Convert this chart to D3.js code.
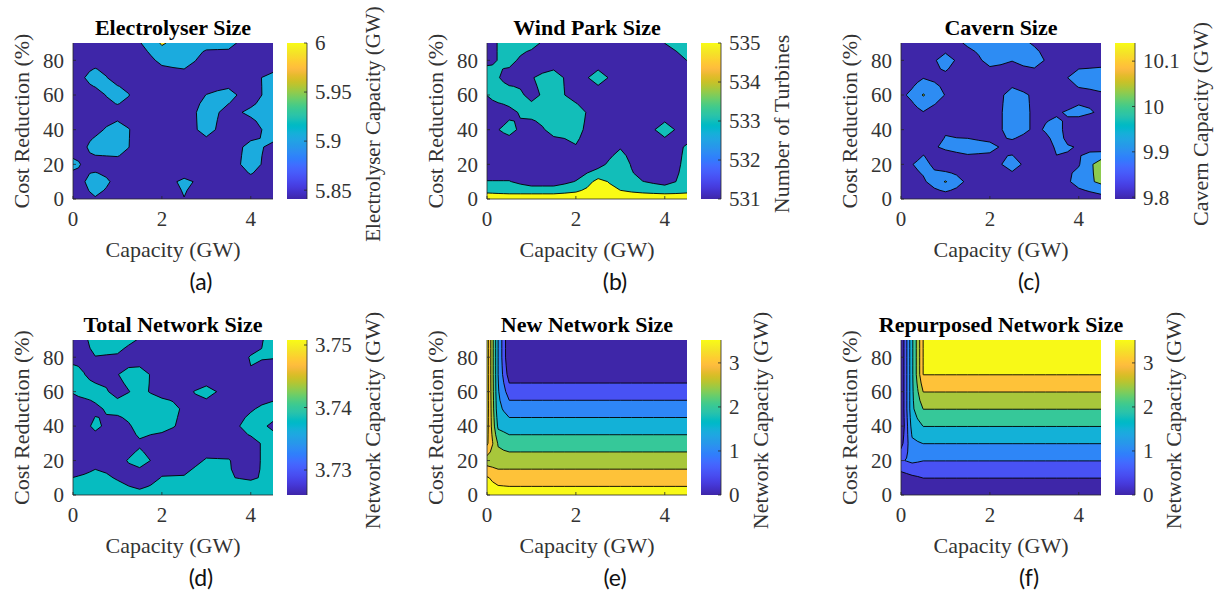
<!DOCTYPE html>
<html>
<head>
<meta charset="utf-8">
<script src="https://cdn.jsdelivr.net/npm/d3@7"></script>
<style>
  body { margin: 0; background: #fff; }
  text { font-family: "Liberation Serif", "Times New Roman", serif; fill: #333; }
  .title { font-weight: bold; fill: #000; font-size: 22px; }
  .tag { font-family: Lato, "Open Sans", sans-serif; fill: #111; font-size: 23px; }
</style>
</head>
<body>
<svg width="1222" height="599"></svg>
<script>
// grid of the sweep: columns = capacity (GW), rows = cost reduction (%) from top (90) to bottom (0)
var capacity = [0, 0.25, 0.5, 1, 1.5, 2, 2.5, 3, 3.5, 4, 4.5];
var costReduction = [90, 80, 70, 60, 50, 40, 30, 20, 10, 0];
var xTicks = [0, 2, 4];
var yTicks = [0, 20, 40, 60, 80];

var electrolyserSize = [
  [5.843, 5.843, 5.843, 5.843, 5.899, 6.000, 5.948, 5.942, 5.940, 5.843, 5.843],
  [5.843, 5.843, 5.843, 5.843, 5.843, 5.931, 5.967, 5.849, 5.843, 5.843, 5.843],
  [5.843, 5.901, 5.979, 5.843, 5.843, 5.843, 5.843, 5.843, 5.843, 5.880, 5.932],
  [5.843, 5.843, 5.843, 5.979, 5.843, 5.843, 5.843, 5.907, 5.943, 5.843, 5.967],
  [5.843, 5.843, 5.843, 5.843, 5.843, 5.843, 5.843, 5.955, 5.868, 5.929, 5.967],
  [5.843, 5.855, 5.868, 5.967, 5.855, 5.843, 5.843, 5.948, 5.843, 5.843, 5.967],
  [5.843, 5.886, 5.961, 5.967, 5.849, 5.843, 5.843, 5.843, 5.843, 5.940, 5.880],
  [5.937, 5.890, 5.843, 5.855, 5.843, 5.843, 5.843, 5.843, 5.843, 5.958, 5.843],
  [5.843, 5.899, 5.979, 5.868, 5.843, 5.874, 5.920, 5.883, 5.843, 5.867, 5.843],
  [5.843, 5.868, 5.893, 5.843, 5.843, 5.843, 5.903, 5.843, 5.843, 5.843, 5.843]
];
var electrolyserLevels = [5.905, 5.99];
var electrolyserRange = [5.841, 6.0];
var electrolyserTicks = [5.85, 5.9, 5.95, 6];

var windParkSize = [
  [531, 533.2, 534.6, 534.24, 531, 531, 531, 531, 531, 533.04, 534.6],
  [532.2, 533.08, 534, 531, 531, 531, 531, 531, 531, 531, 533.04],
  [534.8, 533.2, 531.6, 532.8, 534.6, 531, 534.6, 531, 531, 531, 531],
  [533.08, 534.6, 534.64, 532.2, 534.32, 531.68, 531, 531, 531, 531, 531],
  [531, 531, 532.2, 534.32, 534.6, 534.6, 531, 531, 531, 531, 531],
  [531, 532.92, 534, 531, 534.32, 533.96, 531, 531, 531, 534.6, 531],
  [531, 531, 531, 531, 531, 532.84, 531, 532.8, 531, 531, 533.4],
  [531, 531, 531, 531, 531, 531, 532.2, 534.6, 531, 531, 533.8],
  [533.12, 533.12, 533.12, 531.88, 531.88, 533.12, 535.6, 534.2, 533.08, 532.2, 533.8],
  [536, 535.88, 535.8, 536.32, 536.32, 536.24, 536.2, 535.8, 536.04, 536.2, 535.64]
];
var windParkLevels = [533, 535];
var windParkRange = [531, 535];
var windParkTicks = [531, 532, 533, 534, 535];

var cavernSize = [
  [9.80, 9.80, 9.80, 9.80, 9.928, 9.98, 9.98, 9.88, 9.80, 9.80, 9.80],
  [9.80, 9.80, 9.80, 9.97, 9.80, 9.956, 9.904, 9.98, 9.80, 9.84, 9.86],
  [9.80, 9.842, 9.894, 9.86, 9.80, 9.80, 9.82, 9.80, 9.84, 9.96, 9.96],
  [9.87, 9.934, 10.04, 9.894, 9.80, 9.80, 9.96, 9.88, 9.80, 9.854, 9.886],
  [9.80, 9.842, 9.894, 9.80, 9.80, 9.80, 9.98, 9.88, 9.888, 9.934, 9.884],
  [9.80, 9.80, 9.80, 9.89, 9.84, 9.80, 9.98, 9.88, 9.936, 9.80, 9.80],
  [9.80, 9.80, 9.86, 9.92, 9.96, 9.94, 9.84, 9.80, 9.914, 9.896, 9.822],
  [9.84, 9.896, 9.944, 9.80, 9.82, 9.82, 9.97, 9.80, 9.884, 9.89, 10.11],
  [9.80, 9.84, 9.878, 10.04, 9.87, 9.80, 9.80, 9.80, 9.80, 9.96, 10.06],
  [9.80, 9.80, 9.80, 9.80, 9.80, 9.80, 9.80, 9.80, 9.80, 9.80, 9.84]
];
var cavernLevels = [9.9, 10.03];
var cavernRange = [9.796, 10.14];
var cavernTicks = [9.8, 9.9, 10, 10.1];

var totalNetworkSize = [
  [3.7260, 3.7344, 3.7452, 3.7452, 3.7368, 3.7260, 3.7260, 3.7260, 3.7260, 3.7289, 3.7452],
  [3.7308, 3.7332, 3.7375, 3.7362, 3.7260, 3.7260, 3.7260, 3.7260, 3.7260, 3.7392, 3.7392],
  [3.7476, 3.7385, 3.7308, 3.7375, 3.7476, 3.7260, 3.7260, 3.7260, 3.7260, 3.7368, 3.7260],
  [3.7392, 3.7452, 3.7452, 3.7332, 3.7418, 3.7322, 3.7337, 3.7440, 3.7310, 3.7260, 3.7260],
  [3.7284, 3.7260, 3.7342, 3.7452, 3.7476, 3.7476, 3.7356, 3.7296, 3.7260, 3.7356, 3.7476],
  [3.7260, 3.7315, 3.7428, 3.7260, 3.7452, 3.7452, 3.7332, 3.7284, 3.7284, 3.7476, 3.7344],
  [3.7260, 3.7260, 3.7260, 3.7260, 3.7354, 3.7260, 3.7260, 3.7308, 3.7308, 3.7308, 3.7476],
  [3.7260, 3.7284, 3.7330, 3.7332, 3.7447, 3.7308, 3.7308, 3.7392, 3.7387, 3.7308, 3.7476],
  [3.7382, 3.7404, 3.7428, 3.7368, 3.7284, 3.7387, 3.7392, 3.7476, 3.7385, 3.7368, 3.7404],
  [3.7452, 3.7452, 3.7452, 3.7452, 3.7428, 3.7452, 3.7452, 3.7452, 3.7452, 3.7452, 3.7452]
];
var totalNetworkLevels = [3.738];
var totalNetworkRange = [3.726, 3.7508];
var totalNetworkTicks = [3.73, 3.74, 3.75];

var newNetworkSize = [
  [3.77, 1.5, 0, 0, 0, 0, 0, 0, 0, 0, 0],
  [3.77, 1.5, 0, 0, 0, 0, 0, 0, 0, 0, 0],
  [3.77, 1.5, 0.25, 0.25, 0.25, 0.25, 0.25, 0.25, 0.25, 0.25, 0.25],
  [3.77, 1.55, 0.75, 0.75, 0.75, 0.75, 0.75, 0.75, 0.75, 0.75, 0.75],
  [3.77, 1.65, 1.25, 1.25, 1.25, 1.25, 1.25, 1.25, 1.25, 1.25, 1.25],
  [3.7, 1.9, 1.75, 1.75, 1.75, 1.75, 1.75, 1.75, 1.75, 1.75, 1.75],
  [3.6, 2.45, 2.25, 2.25, 2.25, 2.25, 2.25, 2.25, 2.25, 2.25, 2.25],
  [2.76, 2.7, 2.75, 2.75, 2.75, 2.75, 2.75, 2.75, 2.75, 2.75, 2.75],
  [3.55, 3.3, 3.25, 3.25, 3.25, 3.25, 3.25, 3.25, 3.25, 3.25, 3.25],
  [3.75, 3.75, 3.75, 3.75, 3.75, 3.75, 3.75, 3.75, 3.75, 3.75, 3.75]
];
var repurposedNetworkSize = [
  [0, 1.9, 3.51, 3.51, 3.51, 3.51, 3.51, 3.51, 3.51, 3.51, 3.51],
  [0, 1.9, 3.51, 3.51, 3.51, 3.51, 3.51, 3.51, 3.51, 3.51, 3.51],
  [0, 1.9, 3.51, 3.51, 3.51, 3.51, 3.51, 3.51, 3.51, 3.51, 3.51],
  [0, 1.9, 3.01, 3.01, 3.01, 3.01, 3.01, 3.01, 3.01, 3.01, 3.01],
  [0, 1.9, 2.51, 2.51, 2.51, 2.51, 2.51, 2.51, 2.51, 2.51, 2.51],
  [0, 1.7, 2.01, 2.01, 2.01, 2.01, 2.01, 2.01, 2.01, 2.01, 2.01],
  [0.3, 1.4, 1.51, 1.51, 1.51, 1.51, 1.51, 1.51, 1.51, 1.51, 1.51],
  [0.95, 1.1, 1.01, 1.01, 1.01, 1.01, 1.01, 1.01, 1.01, 1.01, 1.01],
  [0.25, 0.4, 0.51, 0.51, 0.51, 0.51, 0.51, 0.51, 0.51, 0.51, 0.51],
  [0, 0.01, 0.01, 0.01, 0.01, 0.01, 0.01, 0.01, 0.01, 0.01, 0.01]
];
var networkLevels = [0.5, 1, 1.5, 2, 2.5, 3, 3.5];
var networkRange = [0, 3.52];
var networkTicks = [0, 1, 2, 3];

// MATLAB parula (64 entries)
var parulaMap = [
  [0.2422,0.1504,0.6603],[0.2504,0.1650,0.7076],[0.2578,0.1818,0.7511],[0.2647,0.1978,0.7952],
  [0.2706,0.2147,0.8364],[0.2751,0.2342,0.8710],[0.2783,0.2559,0.8991],[0.2803,0.2782,0.9221],
  [0.2813,0.3006,0.9414],[0.2810,0.3228,0.9579],[0.2795,0.3447,0.9717],[0.2760,0.3667,0.9829],
  [0.2699,0.3892,0.9906],[0.2602,0.4123,0.9952],[0.2440,0.4358,0.9988],[0.2206,0.4603,0.9973],
  [0.1963,0.4847,0.9892],[0.1834,0.5074,0.9798],[0.1786,0.5289,0.9682],[0.1764,0.5499,0.9520],
  [0.1687,0.5703,0.9359],[0.1540,0.5902,0.9218],[0.1460,0.6091,0.9079],[0.1380,0.6276,0.8973],
  [0.1248,0.6459,0.8883],[0.1113,0.6635,0.8763],[0.0952,0.6798,0.8598],[0.0689,0.6948,0.8394],
  [0.0297,0.7082,0.8163],[0.0036,0.7203,0.7917],[0.0067,0.7312,0.7660],[0.0433,0.7411,0.7394],
  [0.0964,0.7500,0.7120],[0.1408,0.7584,0.6842],[0.1717,0.7670,0.6554],[0.1938,0.7758,0.6251],
  [0.2161,0.7843,0.5923],[0.2470,0.7918,0.5567],[0.2906,0.7973,0.5188],[0.3406,0.8008,0.4789],
  [0.3909,0.8029,0.4354],[0.4456,0.8024,0.3909],[0.5044,0.7993,0.3480],[0.5616,0.7942,0.3045],
  [0.6174,0.7876,0.2612],[0.6720,0.7793,0.2227],[0.7242,0.7698,0.1910],[0.7738,0.7598,0.1646],
  [0.8203,0.7498,0.1535],[0.8634,0.7406,0.1596],[0.9035,0.7330,0.1774],[0.9393,0.7288,0.2100],
  [0.9728,0.7298,0.2394],[0.9956,0.7434,0.2371],[0.9970,0.7659,0.2199],[0.9952,0.7893,0.2028],
  [0.9892,0.8136,0.1885],[0.9786,0.8386,0.1766],[0.9676,0.8639,0.1643],[0.9610,0.8890,0.1537],
  [0.9597,0.9135,0.1423],[0.9628,0.9373,0.1265],[0.9691,0.9606,0.1064],[0.9769,0.9839,0.0805]
];
function parula(t) {
  t = Math.max(0, Math.min(1, t));
  var f = t * 63, k = Math.min(62, Math.floor(f)), u = f - k;
  var a = parulaMap[k], b = parulaMap[k + 1];
  return d3.rgb(255 * (a[0] + u * (b[0] - a[0])), 255 * (a[1] + u * (b[1] - a[1])), 255 * (a[2] + u * (b[2] - a[2]))) + "";
}

var panels = [
  {grid: electrolyserSize, levels: electrolyserLevels, range: electrolyserRange, ticks: electrolyserTicks,
   title: "Electrolyser Size", barLabel: "Electrolyser Capacity (GW)", tag: "(a)", col: 0, row: 0, gap: 93, labelSize: 21},
  {grid: windParkSize, levels: windParkLevels, range: windParkRange, ticks: windParkTicks,
   title: "Wind Park Size", barLabel: "Number of Turbines", tag: "(b)", col: 1, row: 0, gap: 88, labelSize: 22},
  {grid: cavernSize, levels: cavernLevels, range: cavernRange, ticks: cavernTicks,
   title: "Cavern Size", barLabel: "Cavern Capacity (GW)", tag: "(c)", col: 2, row: 0, gap: 93, labelSize: 22},
  {grid: totalNetworkSize, levels: totalNetworkLevels, range: totalNetworkRange, ticks: totalNetworkTicks,
   title: "Total Network Size", barLabel: "Network Capacity (GW)", tag: "(d)", col: 0, row: 1, gap: 93, labelSize: 22},
  {grid: newNetworkSize, levels: networkLevels, range: networkRange, ticks: networkTicks,
   title: "New Network Size", barLabel: "Network Capacity (GW)", tag: "(e)", col: 1, row: 1, gap: 67, labelSize: 22},
  {grid: repurposedNetworkSize, levels: networkLevels, range: networkRange, ticks: networkTicks,
   title: "Repurposed Network Size", barLabel: "Network Capacity (GW)", tag: "(f)", col: 2, row: 1, gap: 66, labelSize: 22}
];

var colLeft = [73, 487, 901], rowTop = [43, 340], plotW = 200, rowH = [156, 155];
var svg = d3.select("svg");

// gradient for the colour bars
var grad = svg.append("defs").append("linearGradient")
    .attr("id", "parula").attr("x1", 0).attr("y1", 1).attr("x2", 0).attr("y2", 0);
parulaMap.forEach(function(c, i) {
  grad.append("stop").attr("offset", i / 63)
      .attr("stop-color", d3.rgb(c[0] * 255, c[1] * 255, c[2] * 255) + "");
});

// refine the grid once (edge midpoints, cell centres) so saddle cells resolve by the centre mean
function refine(grid) {
  var ny = grid.length, nx = grid[0].length, w = 2 * nx - 1, h = 2 * ny - 1, out = [];
  for (var j = 0; j < h; j++) for (var i = 0; i < w; i++) {
    var j0 = Math.floor(j / 2), j1 = Math.ceil(j / 2), i0 = Math.floor(i / 2), i1 = Math.ceil(i / 2);
    out.push((grid[j0][i0] + grid[j0][i1] + grid[j1][i0] + grid[j1][i1]) / 4);
  }
  return {w: w, h: h, values: out};
}
function along(arr, f) {
  var k = Math.max(0, Math.min(arr.length - 2, Math.floor(f)));
  return arr[k] + (f - k) * (arr[k + 1] - arr[k]);
}

panels.forEach(function(p, pi) {
  var left = colLeft[p.col], top = rowTop[p.row], h = rowH[p.row];
  var x = d3.scaleLinear().domain([0, 4.5]).range([left, left + plotW]);
  var y = d3.scaleLinear().domain([0, 90]).range([top + h, top]);
  var g = svg.append("g");

  g.append("clipPath").attr("id", "clip" + pi)
    .append("rect").attr("x", left).attr("y", top).attr("width", plotW).attr("height", h);

  var plot = g.append("g").attr("clip-path", "url(#clip" + pi + ")");
  var cscale = function(v) { return (v - p.range[0]) / (p.range[1] - p.range[0]); };

  plot.append("rect").attr("x", left).attr("y", top).attr("width", plotW).attr("height", h)
      .attr("fill", parula(0));

  var r = refine(p.grid);
  var contours = d3.contours().size([r.w, r.h]).thresholds(p.levels)(r.values);
  var proj = d3.geoTransform({
    point: function(cx, cy) {
      this.stream.point(x(along(capacity, (cx - 0.5) / 2)), y(along(costReduction, (cy - 0.5) / 2)));
    }
  });
  var path = d3.geoPath(proj);
  plot.selectAll("path.band").data(contours).enter().append("path")
      .attr("class", "band")
      .attr("d", path)
      .attr("fill", function(d) { return parula(cscale(d.value)); })
      .attr("stroke", "#000")
      .attr("stroke-width", 0.9)
      .attr("stroke-linejoin", "round");

  // axes
  g.append("line").attr("x1", left).attr("x2", left).attr("y1", top).attr("y2", top + h)
      .attr("stroke", "#262626").attr("stroke-width", 0.8);
  g.append("line").attr("x1", left).attr("x2", left + plotW).attr("y1", top + h).attr("y2", top + h)
      .attr("stroke", "#262626").attr("stroke-width", 0.8);
  xTicks.forEach(function(t) {
    g.append("line").attr("x1", x(t)).attr("x2", x(t)).attr("y1", top + h).attr("y2", top + h - 3)
        .attr("stroke", "#262626").attr("stroke-width", 0.8);
    g.append("text").attr("x", x(t)).attr("y", top + h + 27).attr("text-anchor", "middle")
        .attr("font-size", "21px").text(t);
  });
  yTicks.forEach(function(t) {
    g.append("line").attr("x1", left).attr("x2", left + 3).attr("y1", y(t)).attr("y2", y(t))
        .attr("stroke", "#262626").attr("stroke-width", 0.8);
    g.append("text").attr("x", left - 9).attr("y", y(t)).attr("dy", "0.35em").attr("text-anchor", "end")
        .attr("font-size", "21px").text(t);
  });
  g.append("text").attr("x", left + plotW / 2).attr("y", top + h + 58).attr("text-anchor", "middle")
      .attr("font-size", "22px").text("Capacity (GW)");
  g.append("text").attr("transform", "translate(" + (left - 44) + "," + (top + h / 2) + ") rotate(-90)")
      .attr("text-anchor", "middle").attr("font-size", "22px").text("Cost Reduction (%)");
  g.append("text").attr("class", "title").attr("x", left + plotW / 2).attr("y", top - 8)
      .attr("text-anchor", "middle").text(p.title);
  g.append("text").attr("class", "tag").attr("x", left + plotW / 2 + 28).attr("y", top + h + 91)
      .attr("text-anchor", "middle").text(p.tag);

  // colour bar
  var cbx = left + 214, cbw = 20;
  var cy = d3.scaleLinear().domain(p.range).range([top + h, top]);
  g.append("rect").attr("x", cbx).attr("y", top).attr("width", cbw).attr("height", h)
      .attr("fill", "url(#parula)");
  g.append("line").attr("x1", cbx + cbw).attr("x2", cbx + cbw).attr("y1", top).attr("y2", top + h)
      .attr("stroke", "#262626").attr("stroke-width", 0.8);
  p.ticks.forEach(function(t) {
    g.append("line").attr("x1", cbx + cbw).attr("x2", cbx + cbw - 3).attr("y1", cy(t)).attr("y2", cy(t))
        .attr("stroke", "#262626").attr("stroke-width", 0.8);
    g.append("text").attr("x", cbx + cbw + 8).attr("y", cy(t)).attr("dy", "0.35em")
        .attr("font-size", "21px").text(t);
  });
  g.append("text").attr("transform", "translate(" + (cbx + p.gap) + "," + (top + h / 2 + 3) + ") rotate(-90)")
      .attr("text-anchor", "middle").attr("font-size", p.labelSize + "px").text(p.barLabel);
});
</script>
</body>
</html>
